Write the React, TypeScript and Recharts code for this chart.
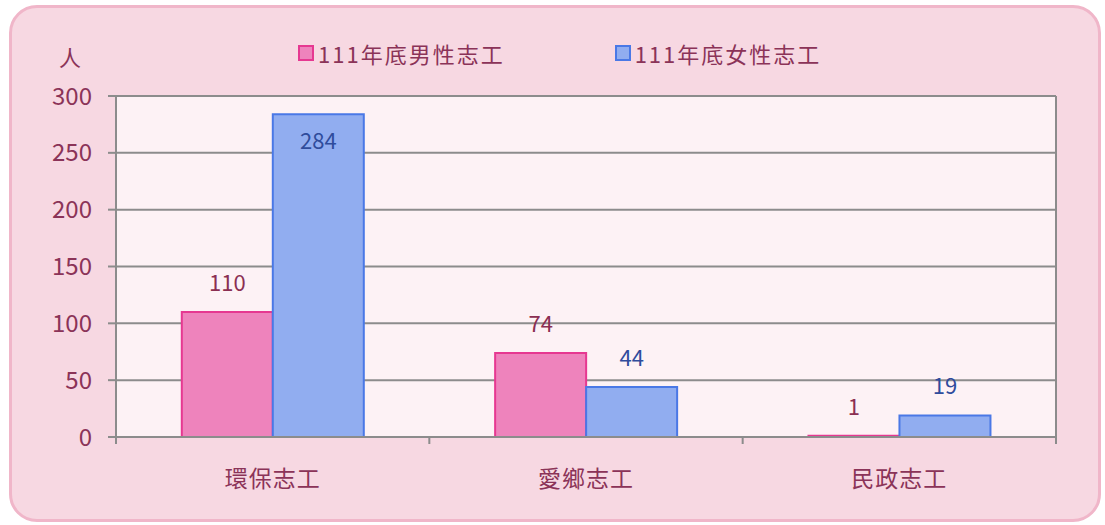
import React from 'react';
import { BarChart, Bar, XAxis, YAxis, CartesianGrid, LabelList } from 'recharts';

const categories = ['環保志工', '愛鄉志工', '民政志工'];
const maleValues = [110, 74, 1];
const femaleValues = [284, 44, 19];
const yTicks = [0, 50, 100, 150, 200, 250, 300];
const seriesNames = ['111年底男性志工', '111年底女性志工'];

const FONT = '"Noto Sans CJK TC", "Noto Sans", sans-serif';
const TEXT = '#8b3358';
const PINK_FILL = '#ee83bc';
const PINK_LINE = '#e63891';
const BLUE_FILL = '#91adf0';
const BLUE_LINE = '#4a78e6';
const GRID = '#8c8c8c';

const data = categories.map((name, i) => ({
  name,
  male: maleValues[i],
  female: femaleValues[i],
}));

const makeLabel = (color: string) => (props: any) => {
  const { x, y, width, value } = props;
  const cx = x + width / 2;
  const above = y - 31;
  const ty = above < 100 ? y + 25 : above;
  return (
    <text
      x={cx}
      y={ty}
      textAnchor="middle"
      dominantBaseline="central"
      fill={color}
      fontSize={22}
      fontFamily={FONT}
    >
      {value}
    </text>
  );
};

// category label plus the boundary tick marks between categories
const CategoryTick = ({ x, y, payload, index, visibleTicksCount }: any) => {
  const half = payload.offset || 0;
  const last = index === visibleTicksCount - 1;
  return (
    <g>
      <line x1={x - half} x2={x - half} y1={y} y2={y + 7} stroke={GRID} strokeWidth={2} />
      {last && <line x1={x + half} x2={x + half} y1={y} y2={y + 7} stroke={GRID} strokeWidth={2} />}
      <text
        x={x}
        y={y + 40}
        textAnchor="middle"
        dominantBaseline="central"
        fill={TEXT}
        fontSize={23}
        fontFamily={FONT}
        letterSpacing={1}
      >
        {payload.value}
      </text>
    </g>
  );
};

const LegendContent = () => (
  <div style={{ display: 'flex', fontFamily: FONT, fontSize: 22, color: TEXT }}>
    {seriesNames.map((name, i) => (
      <div
        key={name}
        style={{ display: 'flex', alignItems: 'center', marginRight: i === 0 ? 110 : 0 }}
      >
        <span
          style={{
            display: 'inline-block',
            width: 12,
            height: 12,
            background: i === 0 ? PINK_FILL : BLUE_FILL,
            border: `2px solid ${i === 0 ? PINK_LINE : BLUE_LINE}`,
            marginRight: 4,
          }}
        />
        <span style={{ letterSpacing: 2 }}>{name}</span>
      </div>
    ))}
  </div>
);

export default function App() {
  return (
    <div style={{ position: 'absolute', left: 0, top: 0, width: 1105, height: 525, background: '#fff' }}>
      <div
        style={{
          position: 'absolute',
          left: 9,
          top: 5,
          width: 1086,
          height: 511,
          background: '#f7d8e2',
          border: '3px solid #f0b6c9',
          borderRadius: 28,
        }}
      />
      <div style={{ position: 'absolute', left: 298, top: 37 }}>
        <LegendContent />
      </div>
      <div style={{ position: 'absolute', left: 0, top: 0 }}>
        <BarChart
          width={1105}
          height={525}
          data={data}
          margin={{ top: 96, right: 0, bottom: 28, left: 0 }}
          barCategoryGap="21%"
          barGap={0}
        >
          <CartesianGrid fill="#fdf2f5" stroke={GRID} strokeWidth={2} vertical={false} yAxisId="l" />
          <XAxis
            dataKey="name"
            height={60}
            tickSize={0}
            tickMargin={0}
            tickLine={false}
            axisLine={{ stroke: GRID, strokeWidth: 2 }}
            tick={<CategoryTick />}
            interval={0}
          />
          <YAxis
            yAxisId="l"
            width={116}
            domain={[0, 300]}
            ticks={yTicks}
            tickSize={8}
            tickMargin={16}
            tickLine={{ stroke: GRID, strokeWidth: 2 }}
            axisLine={{ stroke: GRID, strokeWidth: 2 }}
            tick={{ fill: TEXT, fontSize: 24, fontFamily: FONT }}
            label={(props: any) => {
              const vb = props.viewBox;
              return (
                <text
                  x={vb.x + 70}
                  y={vb.y - 40}
                  textAnchor="middle"
                  dominantBaseline="central"
                  fill={TEXT}
                  fontSize={22}
                  fontFamily={FONT}
                >
                  人
                </text>
              );
            }}
          />
          <YAxis
            yAxisId="r"
            orientation="right"
            width={49}
            domain={[0, 300]}
            ticks={yTicks}
            tick={false}
            tickLine={false}
            axisLine={{ stroke: GRID, strokeWidth: 2 }}
          />
          <Bar
            dataKey="male"
            yAxisId="l"
            fill={PINK_FILL}
            stroke={PINK_LINE}
            strokeWidth={2}
            isAnimationActive={false}
          >
            <LabelList dataKey="male" content={makeLabel('#8b2f52')} />
          </Bar>
          <Bar
            dataKey="female"
            yAxisId="l"
            fill={BLUE_FILL}
            stroke={BLUE_LINE}
            strokeWidth={2}
            isAnimationActive={false}
          >
            <LabelList dataKey="female" content={makeLabel('#2f4c9c')} />
          </Bar>
        </BarChart>
      </div>
    </div>
  );
}
